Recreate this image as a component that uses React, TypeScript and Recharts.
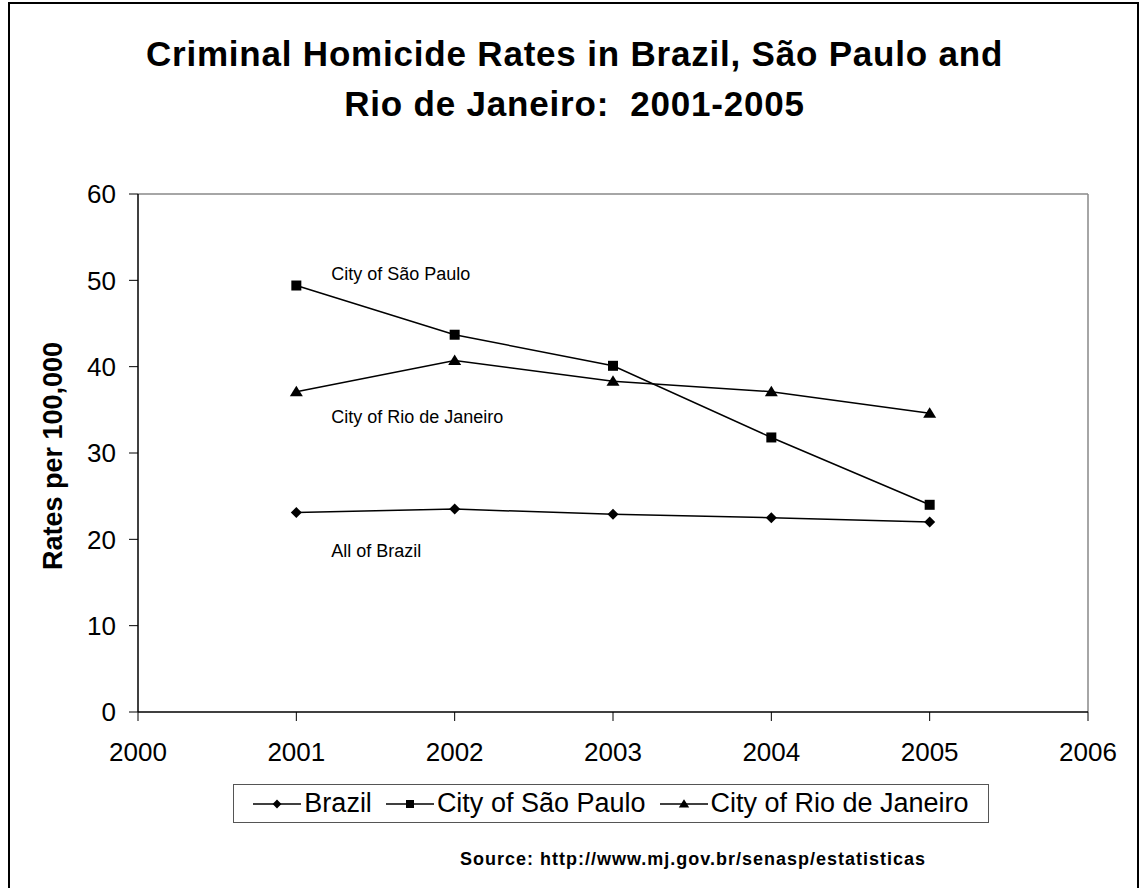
import React from 'react';
import { LineChart, Line, XAxis, YAxis, Legend, ReferenceLine, ReferenceDot } from 'recharts';

// Homicides per 100,000 inhabitants
const years = [2001, 2002, 2003, 2004, 2005];
const brazil = [23.1, 23.5, 22.9, 22.5, 22.0];
const saoPaulo = [49.4, 43.7, 40.1, 31.8, 24.0];
const rioDeJaneiro = [37.1, 40.7, 38.3, 37.1, 34.6];

const xTicks = [2000, 2001, 2002, 2003, 2004, 2005, 2006];
const yTicks = [0, 10, 20, 30, 40, 50, 60];

const data = years.map((year, i) => ({
  year,
  brazil: brazil[i],
  saoPaulo: saoPaulo[i],
  rio: rioDeJaneiro[i],
}));

type Marker = 'diamond' | 'square' | 'triangle';

const series: { key: string; name: string; marker: Marker }[] = [
  { key: 'brazil', name: 'Brazil', marker: 'diamond' },
  { key: 'saoPaulo', name: 'City of São Paulo', marker: 'square' },
  { key: 'rio', name: 'City of Rio de Janeiro', marker: 'triangle' },
];

// in-plot captions, placed in data units
const notes = [
  { text: 'City of São Paulo', x: 2001.22, y: 50.75 },
  { text: 'City of Rio de Janeiro', x: 2001.22, y: 34.25 },
  { text: 'All of Brazil', x: 2001.22, y: 18.7 },
];

const FONT = "'Liberation Sans', Arial, sans-serif";

const markerPath = (m: Marker, cx: number, cy: number, s = 1) => {
  if (m === 'diamond') {
    const h = 5.5 * s;
    return `M${cx},${cy - h}L${cx + h},${cy}L${cx},${cy + h}L${cx - h},${cy}Z`;
  }
  if (m === 'square') {
    const h = 5 * s;
    return `M${cx - h},${cy - h}H${cx + h}V${cy + h}H${cx - h}Z`;
  }
  return `M${cx},${cy - 6 * s}L${cx + 6.5 * s},${cy + 4.5 * s}L${cx - 6.5 * s},${cy + 4.5 * s}Z`;
};

const makeDot = (m: Marker) => (props: any) => {
  const { cx, cy, index } = props;
  if (cx == null || cy == null) return <g key={index} />;
  return <path key={index} d={markerPath(m, cx, cy)} fill="#000" />;
};

const LegendBox = () => (
  <div
    style={{
      boxSizing: 'border-box',
      width: 756,
      height: 39,
      border: '1.5px solid #555',
      background: '#fff',
      display: 'flex',
      alignItems: 'center',
      justifyContent: 'center',
      gap: 14,
      fontFamily: FONT,
      fontSize: 27,
      color: '#000',
      whiteSpace: 'nowrap',
    }}
  >
    {series.map((s) => (
      <div key={s.key} style={{ display: 'flex', alignItems: 'center' }}>
        <svg width={48} height={20} style={{ marginRight: 3 }}>
          <line x1={0} y1={10} x2={48} y2={10} stroke="#000" strokeWidth={1.5} />
          <path d={markerPath(s.marker, 24, 10, 0.8)} fill="#000" />
        </svg>
        <span>{s.name}</span>
      </div>
    ))}
  </div>
);

const YLabel = (props: any) => {
  const vb = props.viewBox || { x: 0, y: 194, width: 138, height: 518 };
  const x = vb.x + 62;
  const y = vb.y + vb.height / 2 + 3;
  return (
    <text
      transform={`translate(${x},${y}) rotate(-90)`}
      textAnchor="middle"
      fontFamily={FONT}
      fontWeight="bold"
      fontSize={27}
      fill="#000"
    >
      Rates per 100,000
    </text>
  );
};

export default function App() {
  return (
    <div
      style={{
        position: 'absolute',
        left: 0,
        top: 0,
        width: 1142,
        height: 888,
        overflow: 'hidden',
        background: '#fff',
        fontFamily: FONT,
      }}
    >
      <div
        style={{
          position: 'absolute',
          left: 0,
          top: 29,
          width: 1149,
          textAlign: 'center',
          fontSize: 35,
          fontWeight: 'bold',
          lineHeight: '50px',
          letterSpacing: 0.8,
          color: '#000',
        }}
      >
        Criminal Homicide Rates in Brazil, São Paulo and
        <br />
        Rio de Janeiro:&nbsp; 2001-2005
      </div>

      <div style={{ position: 'absolute', left: 0, top: 0 }}>
        <LineChart width={1142} height={888} data={data} margin={{ top: 194, right: 54, bottom: 116, left: 0 }}>
          <XAxis
            dataKey="year"
            type="number"
            domain={[2000, 2006]}
            ticks={xTicks}
            height={60}
            tickSize={9}
            tickMargin={22}
            axisLine={{ stroke: '#000', strokeWidth: 1.5 }}
            tickLine={{ stroke: '#000', strokeWidth: 1 }}
            tick={{ fill: '#000', fontSize: 26, fontFamily: FONT }}
          />
          <YAxis
            type="number"
            domain={[0, 60]}
            ticks={yTicks}
            width={138}
            tickSize={9}
            tickMargin={13}
            axisLine={{ stroke: '#000', strokeWidth: 1.5 }}
            tickLine={{ stroke: '#000', strokeWidth: 1 }}
            tick={{ fill: '#000', fontSize: 26, fontFamily: FONT }}
            label={<YLabel />}
          />
          <ReferenceLine y={60} stroke="#888" strokeWidth={1.5} />
          <ReferenceLine x={2006} stroke="#888" strokeWidth={1.5} />
          {notes.map((n) => (
            <ReferenceDot
              key={n.text}
              x={n.x}
              y={n.y}
              r={1}
              fill="none"
              stroke="none"
              label={{ value: n.text, position: 'right', offset: -1, fill: '#000', fontSize: 18, fontFamily: FONT }}
            />
          ))}
          {series.map((s) => (
            <Line
              key={s.key}
              dataKey={s.key}
              name={s.name}
              type="linear"
              stroke="#000"
              strokeWidth={1.5}
              dot={makeDot(s.marker)}
              activeDot={false}
              isAnimationActive={false}
            />
          ))}
          <Legend
            layout="horizontal"
            verticalAlign="middle"
            align="center"
            content={<LegendBox />}
            wrapperStyle={{ top: 784, left: 233, width: 756, height: 39 }}
          />
        </LineChart>
      </div>

      <div
        style={{
          position: 'absolute',
          right: 1142 - 926,
          top: 849,
          fontSize: 18,
          lineHeight: '20px',
          fontWeight: 'bold',
          letterSpacing: 1,
          color: '#000',
          whiteSpace: 'nowrap',
        }}
      >
        Source: http://www.mj.gov.br/senasp/estatisticas
      </div>

      <div
        style={{
          position: 'absolute',
          left: 8,
          top: 2,
          width: 1131,
          height: 900,
          border: '2px solid #000',
          boxSizing: 'border-box',
          pointerEvents: 'none',
        }}
      />
    </div>
  );
}
